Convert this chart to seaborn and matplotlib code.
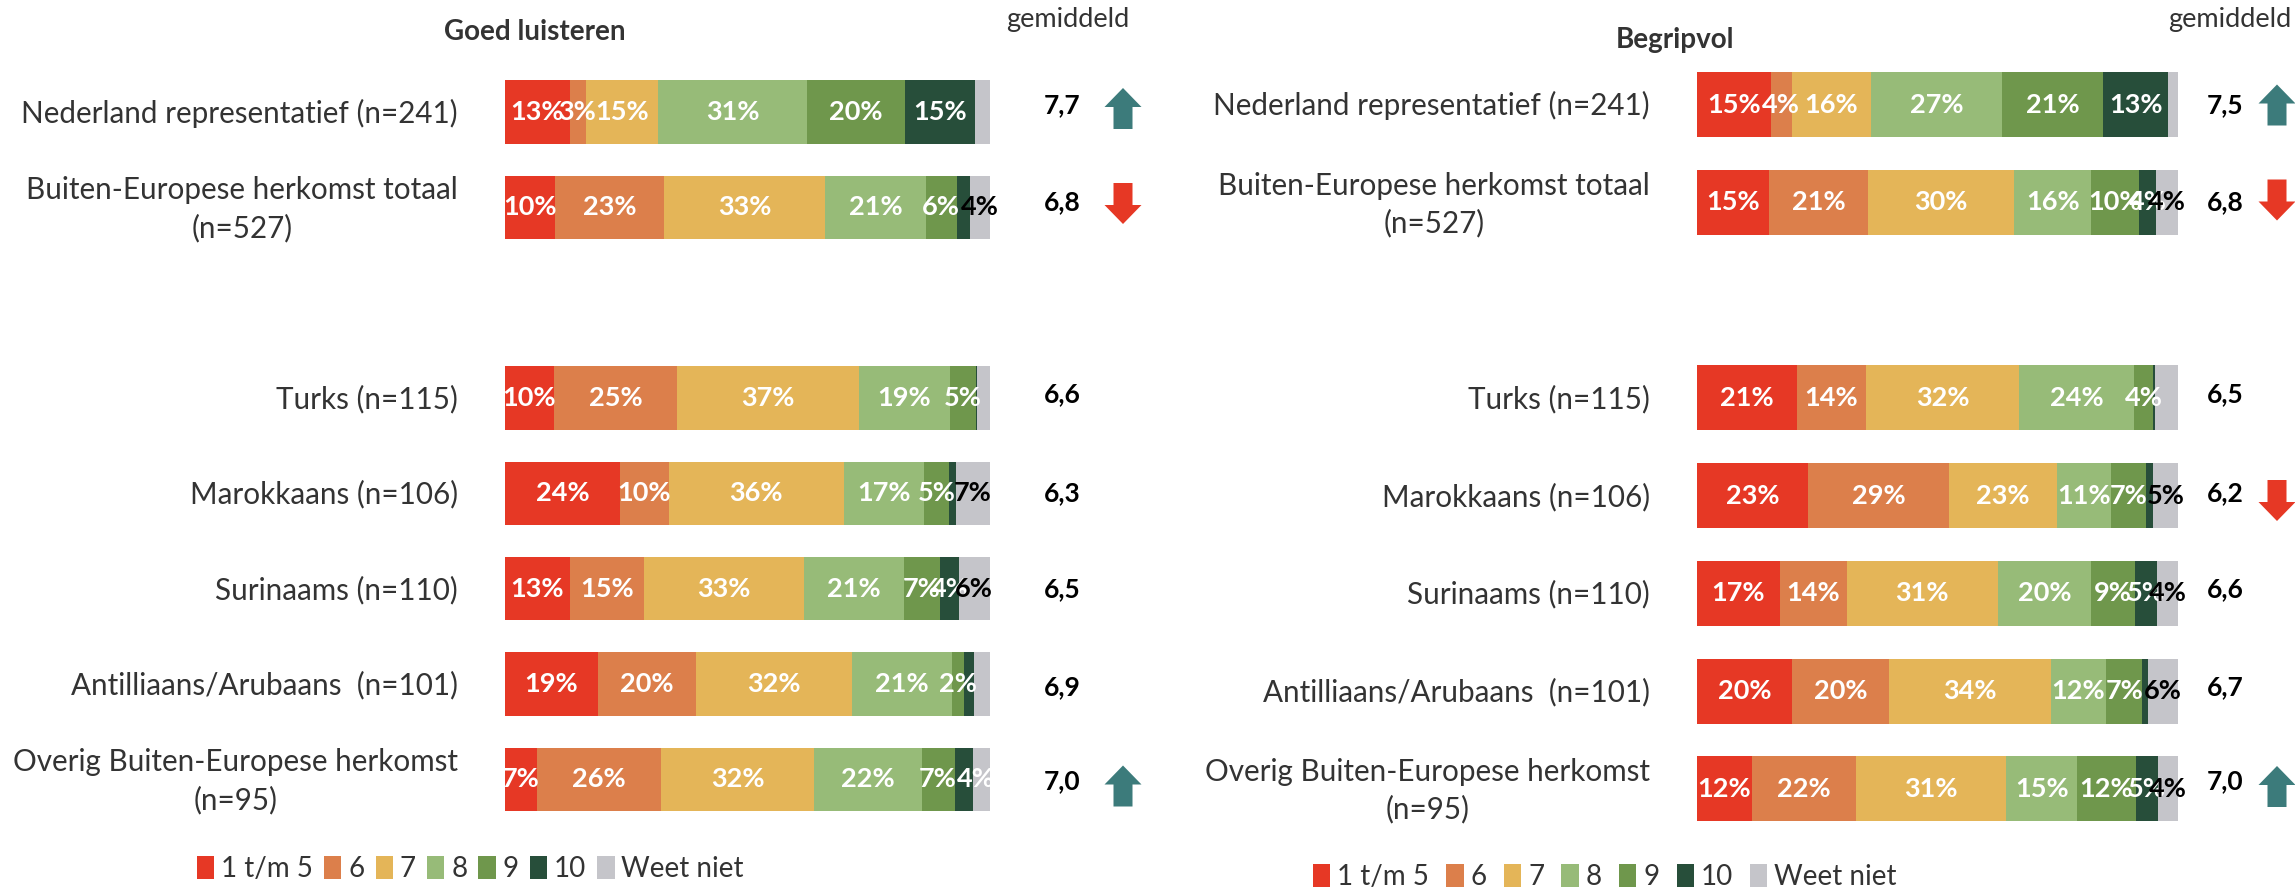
import numpy as np
import pandas as pd
import matplotlib
matplotlib.use("Agg")
import matplotlib.pyplot as plt
from matplotlib.patches import Patch, Polygon
from matplotlib.transforms import ScaledTranslation
import seaborn as sns

W, H = 2295, 893

categories = ["Nederland representatief (n=241)", "Buiten-Europese herkomst totaal\n(n=527)", " ",
              "Turks (n=115)", "Marokkaans (n=106)", "Surinaams (n=110)",
              "Antilliaans/Arubaans  (n=101)", "Overig Buiten-Europese herkomst\n(n=95)"]
series_names = ["1 t/m 5", "6", "7", "8", "9", "10", "Weet niet"]
colors = ["#E63825", "#DC7F4B", "#E4B558", "#97BB78", "#6F974C", "#274E3A", "#C5C5CA"]

left_values = [
    [13.3, 3.3, 15.0, 30.6, 20.2, 14.5, 3.1],
    [10.3, 22.5, 33.2, 20.8, 6.3, 2.7, 4.1],
    [0, 0, 0, 0, 0, 0, 0],
    [10.1, 25.4, 37.4, 18.8, 5.4, 0.3, 2.6],
    [23.7, 10.1, 36.0, 16.6, 5.1, 1.4, 7.1],
    [13.4, 15.3, 32.9, 20.7, 7.4, 3.9, 6.3],
    [19.2, 20.1, 32.2, 20.7, 2.4, 2.1, 3.3],
    [6.6, 25.5, 31.7, 22.1, 6.8, 3.8, 3.5],
]
left_labels = [
    [13, 3, 15, 31, 20, 15, None],
    [10, 23, 33, 21, 6, None, 4],
    [None] * 7,
    [10, 25, 37, 19, 5, None, None],
    [24, 10, 36, 17, 5, None, 7],
    [13, 15, 33, 21, 7, 4, 6],
    [19, 20, 32, 21, 2, None, None],
    [7, 26, 32, 22, 7, 4, None],
]
right_values = [
    [15.3, 4.4, 16.4, 27.4, 21.0, 13.5, 2.0],
    [15.0, 20.5, 30.5, 16.0, 9.9, 3.6, 4.5],
    [0, 0, 0, 0, 0, 0, 0],
    [20.7, 14.4, 31.9, 23.9, 4.0, 0.3, 4.8],
    [23.1, 29.2, 22.6, 11.1, 7.3, 1.5, 5.2],
    [17.2, 14.0, 31.3, 19.5, 9.0, 4.7, 4.3],
    [19.8, 20.1, 33.6, 11.6, 7.4, 1.2, 6.3],
    [11.4, 21.7, 31.2, 14.7, 12.3, 4.6, 4.1],
]
right_labels = [
    [15, 4, 16, 27, 21, 13, None],
    [15, 21, 30, 16, 10, 4, 4],
    [None] * 7,
    [21, 14, 32, 24, 4, None, None],
    [23, 29, 23, 11, 7, None, 5],
    [17, 14, 31, 20, 9, 5, 4],
    [20, 20, 34, 12, 7, None, 6],
    [12, 22, 31, 15, 12, 5, 4],
]
left_means = ["7,7", "6,8", "", "6,6", "6,3", "6,5", "6,9", "7,0"]
right_means = ["7,5", "6,8", "", "6,5", "6,2", "6,6", "6,7", "7,0"]
left_arrows = ["up", "down", None, None, None, None, None, "up"]
right_arrows = ["up", "down", None, None, "down", None, None, "up"]

FONT = "Lato"
sns.set_theme(style="white")
plt.rcParams["font.family"] = [FONT, "DejaVu Sans"]

fig = plt.figure(figsize=(W / 100, H / 100), dpi=100, facecolor="white")


def fx(x):
    return x / W


def fy(y):
    return 1 - y / H


def arrow(cx, cy, direction):
    hw, hh, sw, head = 18.5, 20.5, 9.5, 19
    s = -1 if direction == "up" else 1
    pts = [(-sw, -s * hh), (sw, -s * hh), (sw, s * (hh - head)), (hw, s * (hh - head)),
           (0, s * hh), (-hw, s * (hh - head)), (-sw, s * (hh - head))]
    col = "#3C7B7B" if direction == "up" else "#E63825"
    fig.add_artist(Polygon([(fx(cx + a), fy(cy + b)) for a, b in pts], closed=True,
                           transform=fig.transFigure, fc=col, ec="none"))


def panel(x0, x1, y0, y1, values, labels, title, title_xy, gem_xy, means, mean_x, mean_ys,
          arrows, arrow_x, arrow_ys, legend_xy, legend_gap, nudges):
    ax = fig.add_axes([fx(x0), fy(y1), fx(x1 - x0), (y1 - y0) / H])
    vals = np.array(values, dtype=float)
    cum = vals.cumsum(axis=1)
    for k in range(len(series_names) - 1, -1, -1):
        d = pd.DataFrame({"group": categories, "cum": cum[:, k]})
        sns.barplot(data=d, x="cum", y="group", order=categories, color=colors[k], saturation=1,
                    width=0.665, ax=ax, orient="y", errorbar=None, edgecolor="none", linewidth=0)
    ax.set_xlim(0, 100)
    ax.set_ylim(len(categories) - 0.5, -0.5)
    ax.set_xlabel("")
    ax.set_ylabel("")
    ax.set_xticks([])
    sns.despine(ax=ax, left=True, bottom=True)
    ax.tick_params(axis="y", length=0, pad=34)
    for t in ax.get_yticklabels():
        t.set_fontsize(21.3)
        t.set_color("#333333")
        t.set_multialignment("center")
        t.set_linespacing(1.38)
        up = 5 if "\n" in t.get_text() else 1.5
        t.set_transform(t.get_transform() + ScaledTranslation(0, up / 100, fig.dpi_scale_trans))
    for i, row in enumerate(labels):
        for k, lab in enumerate(row):
            if lab is None:
                continue
            c = cum[i, k] - vals[i, k] / 2 + nudges.get((i, k), 0)
            col = "black" if k == 6 else "white"
            ax.text(c, i, f"{lab}%", ha="center", va="center", color=col, fontsize=19.5,
                    fontweight="bold", clip_on=(i, k) in nudges, zorder=5 + k)
    fig.text(fx(title_xy[0]), fy(title_xy[1]), title, ha="center", va="center", fontsize=20,
             fontweight="bold", color="#333333")
    fig.text(fx(gem_xy[0]), fy(gem_xy[1]), "gemiddeld", ha="center", va="center", fontsize=19.5,
             color="#333333")
    for m, my in zip(means, mean_ys):
        if m:
            fig.text(fx(mean_x), fy(my), m, ha="center", va="center", fontsize=19,
                     fontweight="bold", color="black")
    for a, ay in zip(arrows, arrow_ys):
        if a:
            arrow(arrow_x, ay, a)
    handles = [Patch(fc=c, ec="none", label=n) for c, n in zip(colors, series_names)]
    fig.legend(handles=handles, loc="center", bbox_to_anchor=(fx(legend_xy[0]), fy(legend_xy[1])),
               ncol=7, frameon=False, fontsize=20, labelcolor="#333333",
               handlelength=0.62, handleheight=0.9, handletextpad=0.25, columnspacing=legend_gap,
               borderpad=0, borderaxespad=0)


# left panel: 0..100 spans 505..990 px, rows spaced 95.3 px
panel(505, 990, 64.3, 827.0, left_values, left_labels, "Goed luisteren", (535, 32), (1068, 20),
      left_means, 1062, [105, 202, 0, 394, 493, 589, 687, 781],
      left_arrows, 1123, [108.5, 203.5, 0, 0, 0, 0, 0, 786], (470.5, 869), 0.4, {(7, 5): 2.5})
# right panel
panel(1697, 2178, 55.7, 837.8, right_values, right_labels, "Begripvol", (1675, 40), (2230, 20),
      right_means, 2225, [105, 202, 0, 394, 493.5, 589, 687.5, 781],
      right_arrows, 2277, [105, 200, 0, 0, 500.5, 0, 0, 786.5], (1605, 877), 0.62, {})

fig.savefig("out.png", dpi=100, facecolor="white")
